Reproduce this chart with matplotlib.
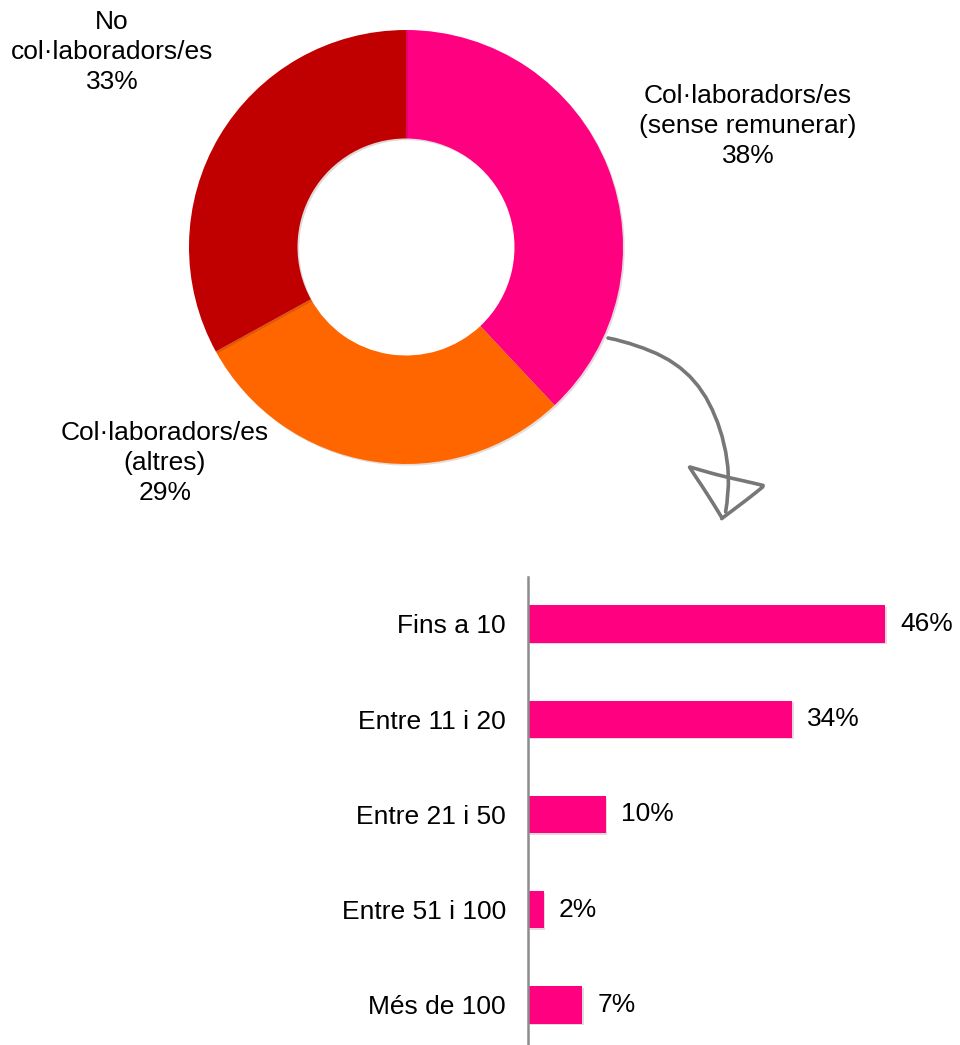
import matplotlib.pyplot as plt
import matplotlib.patheffects as pe
from matplotlib.path import Path
from matplotlib.patches import PathPatch, Polygon

plt.rcParams["font.family"] = ["Liberation Sans", "DejaVu Sans"]

# donut data
pie_labels = ["Col·laboradors/es\n(sense remunerar)", "Col·laboradors/es\n(altres)",
              "No\ncol·laboradors/es"]
pie_values = [38, 29, 33]
pie_colors = ["#FF0080", "#FF6600", "#C00000"]

# bar data
bar_labels = ["Fins a 10", "Entre 11 i 20", "Entre 21 i 50", "Entre 51 i 100", "Més de 100"]
bar_values = [46, 34, 10, 2, 7]

W, H = 960, 1045
FS = 19
fig = plt.figure(figsize=(W / 100, H / 100), dpi=100)

shadow = [pe.SimplePatchShadow(offset=(1.2, -1.2), alpha=0.15), pe.Normal()]

# ---- donut ----
cx, cy, r = 406, 247, 217
ax1 = fig.add_axes([(cx - r) / W, 1 - (cy + r) / H, 2 * r / W, 2 * r / H])
wedges, _ = ax1.pie(pie_values, colors=pie_colors, startangle=90, counterclock=False,
                    radius=1, wedgeprops=dict(width=0.5, linewidth=0))
for w in wedges:
    w.set_path_effects(shadow)
ax1.set_xlim(-1, 1)
ax1.set_ylim(-1, 1)
ax1.set_aspect("equal")
ax1.axis("off")

label_pos = [(1.576, 0.558), (-1.111, -0.995), (-1.355, 0.899)]
for lab, v, (x, y) in zip(pie_labels, pie_values, label_pos):
    ax1.text(x, y, f"{lab}\n{v}%", ha="center", va="center", fontsize=FS,
             linespacing=1.32, clip_on=False)

# ---- bars ----
ax2 = fig.add_axes([528 / W, 0, (W - 528) / W, (1045 - 577) / H])
ypos = list(range(len(bar_values)))
bars = ax2.barh(ypos, bar_values, height=0.39, color="#FF0080", linewidth=0)
for b in bars:
    b.set_path_effects(shadow)
ax2.set_xlim(0, 432 / 7.76)
ax2.set_ylim(4.42, -0.493)
ax2.set_yticks(ypos)
ax2.set_yticklabels(bar_labels, fontsize=FS)
ax2.tick_params(axis="y", length=0, pad=16)
ax2.set_xticks([])
for s in ["top", "right", "bottom"]:
    ax2.spines[s].set_visible(False)
ax2.spines["left"].set_color("#8c8c8c")
ax2.spines["left"].set_linewidth(1.8)
for y, v in zip(ypos, bar_values):
    ax2.annotate(f"{v}%", (v, y), xytext=(11, 0), textcoords="offset points",
                 ha="left", va="center", fontsize=FS)

# ---- hand-drawn arrow (pixel overlay) ----
ov = fig.add_axes([0, 0, 1, 1])
ov.set_xlim(0, W)
ov.set_ylim(H, 0)
ov.axis("off")
verts = [(608, 338), (690, 352), (738, 410), (726, 512)]
curve = PathPatch(Path(verts, [Path.MOVETO, Path.CURVE4, Path.CURVE4, Path.CURVE4]),
                  fill=False, edgecolor="#777777", linewidth=2.6, capstyle="round")
curve.set_sketch_params(scale=0.6, length=120, randomness=2)
ov.add_patch(curve)
head = Polygon([(690, 467), (763, 486), (722, 519)], closed=True, fill=False,
               edgecolor="#777777", linewidth=2.6, joinstyle="round")
head.set_sketch_params(scale=0.6, length=120, randomness=2)
ov.add_patch(head)

fig.savefig("out.png", dpi=100)
